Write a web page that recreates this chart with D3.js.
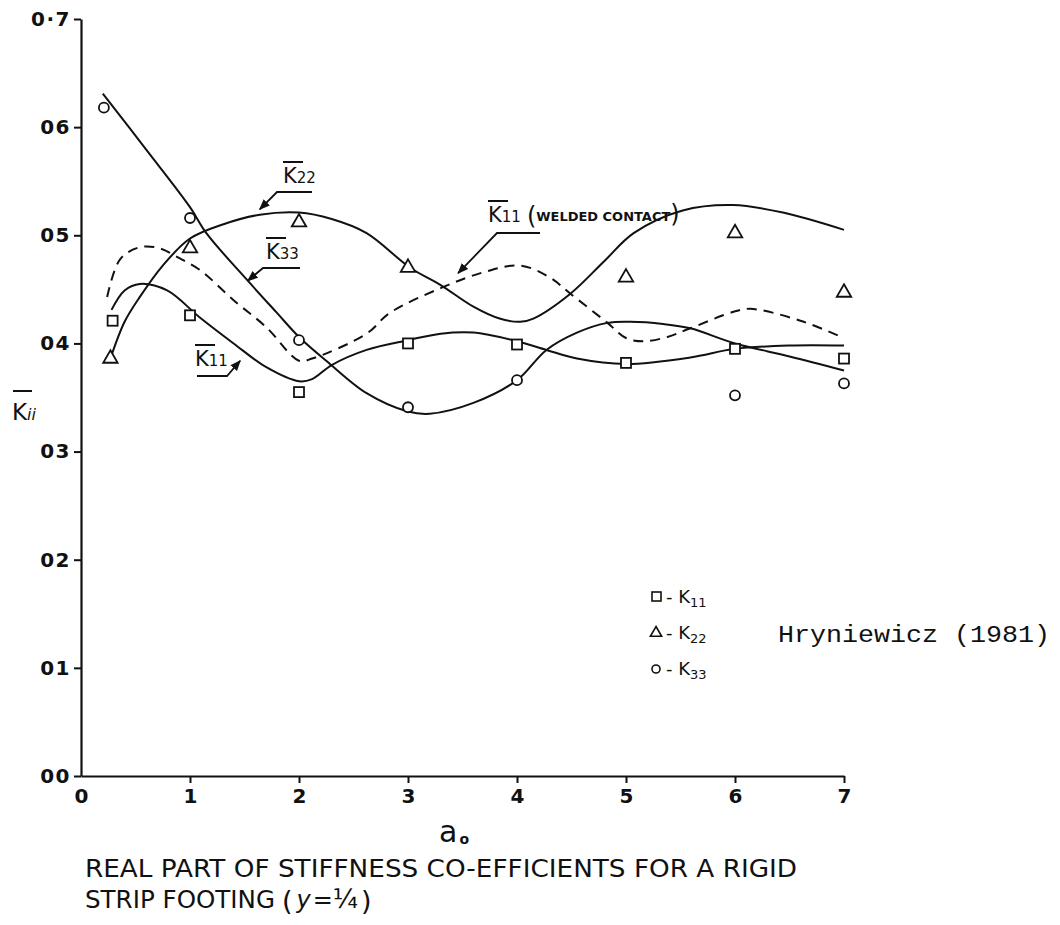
<!DOCTYPE html>
<html><head><meta charset="utf-8">
<script src="https://cdn.jsdelivr.net/npm/d3@7"></script>
<style>
html,body{margin:0;padding:0;background:#fff;}
svg{display:block;}
text{fill:#111;}
</style></head>
<body>
<svg id="c" width="1060" height="925"></svg>
<script>
// ---------- data ----------
const xTicks = [0,1,2,3,4,5,6,7];
const xTickLabels = ["0","1","2","3","4","5","6","7"];
const yTicks = [0,0.1,0.2,0.3,0.4,0.5,0.6,0.7];
const yTickLabels = ["00","01","02","03","04","05","06","0·7"];

// markers (Hryniewicz 1981)
const k11X = [0.29,1,2,3,4,5,6,7];
const k11Y = [0.421,0.426,0.355,0.400,0.399,0.382,0.395,0.386];
const k22X = [0.27,1,2,3,5,6,7];
const k22Y = [0.386,0.488,0.512,0.470,0.461,0.502,0.447];
const k33X = [0.21,1,2,3,4,6,7];
const k33Y = [0.618,0.516,0.403,0.341,0.366,0.352,0.363];

// curves (present study)
const c11X = [0.28,0.40,0.54,0.79,1.09,1.40,1.70,2.00,2.12,2.30,2.62,3.00,3.30,3.60,4.00,4.27,4.55,5.00,5.59,6.00,6.50,7.00];
const c11Y = [0.431,0.449,0.455,0.449,0.424,0.400,0.378,0.365,0.367,0.380,0.394,0.403,0.409,0.410,0.402,0.394,0.386,0.381,0.387,0.395,0.398,0.398];
const c22X = [0.27,0.40,0.54,0.75,1.00,1.30,1.64,2.00,2.30,2.62,3.02,3.30,3.60,3.84,4.03,4.15,4.49,4.80,5.07,5.52,5.98,6.44,7.00];
const c22Y = [0.386,0.420,0.443,0.472,0.497,0.510,0.519,0.521,0.515,0.502,0.470,0.454,0.434,0.423,0.420,0.423,0.446,0.476,0.502,0.523,0.528,0.521,0.505];
const c33X = [0.20,0.60,1.00,1.15,1.53,1.80,2.00,2.25,2.62,3.00,3.20,3.60,4.00,4.27,4.55,4.83,5.04,5.34,5.59,6.00,6.50,7.00];
const c33Y = [0.631,0.579,0.526,0.502,0.458,0.428,0.406,0.384,0.354,0.337,0.335,0.345,0.366,0.394,0.410,0.419,0.420,0.418,0.414,0.400,0.388,0.375];
const cwX = [0.24,0.36,0.54,0.72,0.88,1.09,1.40,1.70,2.00,2.12,2.62,2.83,3.32,3.70,4.03,4.30,4.49,4.83,5.00,5.16,5.38,5.59,5.98,6.14,6.60,7.00];
const cwY = [0.443,0.478,0.489,0.488,0.480,0.468,0.440,0.415,0.384,0.386,0.409,0.428,0.452,0.466,0.472,0.461,0.446,0.419,0.405,0.402,0.406,0.414,0.429,0.432,0.421,0.405];

// annotation arrow tips (data units)
const annK22 = {x:1.64, y:0.524};
const annK33 = {x:1.53, y:0.458};
const annK11 = {x:1.46, y:0.384};
const annW   = {x:3.46, y:0.465};

// ---------- drawing ----------
const svg = d3.select("#c");
svg.append("rect").attr("width",1060).attr("height",925).attr("fill","#fff");
const x = d3.scaleLinear().domain([0,7]).range([81,844]);
const y = d3.scaleLinear().domain([0,0.7]).range([776,19]);
const FONT = "'DejaVu Sans', sans-serif";

svg.append("defs").append("marker")
  .attr("id","ah").attr("viewBox","0 0 10 10").attr("refX",9).attr("refY",5)
  .attr("markerWidth",11).attr("markerHeight",11).attr("markerUnits","userSpaceOnUse")
  .attr("orient","auto")
  .append("path").attr("d","M0,1 L10,5 L0,9 Z").attr("fill","#111");

// axes
const gy = svg.append("g").attr("transform","translate(81,0)")
  .call(d3.axisLeft(y).tickValues(yTicks).tickFormat((d,i)=>yTickLabels[i]).tickSizeInner(7).tickSizeOuter(0).tickPadding(3));
const gx = svg.append("g").attr("transform","translate(0,776)")
  .call(d3.axisBottom(x).tickValues(xTicks).tickFormat((d,i)=>xTickLabels[i]).tickSizeInner(7).tickSizeOuter(0).tickPadding(6));
[gy,gx].forEach(g=>{
  g.select(".domain").attr("stroke","#111").attr("stroke-width",2.2);
  g.selectAll(".tick line").attr("stroke","#111").attr("stroke-width",2);
  g.selectAll(".tick text").attr("font-family",FONT).attr("font-size",20).attr("font-weight","bold").attr("fill","#111");
});
gx.selectAll(".tick").filter(d=>d===0).select("line").remove();
gy.selectAll(".tick text").attr("letter-spacing",1.5);

// lines
const line = d3.line().x(d=>x(d[0])).y(d=>y(d[1])).curve(d3.curveCatmullRom.alpha(0.5));
function pts(xs,ys){return xs.map((v,i)=>[v,ys[i]]);}
const lines = [
  {p:pts(c11X,c11Y),dash:null},
  {p:pts(c22X,c22Y),dash:null},
  {p:pts(c33X,c33Y),dash:null},
  {p:pts(cwX,cwY),dash:"10,7"}
];
svg.append("g").selectAll("path").data(lines).join("path")
  .attr("d",d=>line(d.p)).attr("fill","none").attr("stroke","#111")
  .attr("stroke-width",2).attr("stroke-dasharray",d=>d.dash);

// markers
const mk = svg.append("g").attr("stroke","#111").attr("stroke-width",1.8).attr("fill","#fff");
mk.selectAll(".sq").data(pts(k11X,k11Y)).join("rect")
  .attr("x",d=>x(d[0])-5).attr("y",d=>y(d[1])-5).attr("width",10).attr("height",10);
const tri = d3.symbol().type(d3.symbolTriangle).size(90);
mk.selectAll(".tr").data(pts(k22X,k22Y)).join("path")
  .attr("d",tri).attr("transform",d=>`translate(${x(d[0])},${y(d[1])})`);
mk.selectAll(".ci").data(pts(k33X,k33Y)).join("circle")
  .attr("cx",d=>x(d[0])).attr("cy",d=>y(d[1])).attr("r",5);

// axis labels
const yl = svg.append("text").attr("x",12).attr("y",420).attr("font-family",FONT).attr("font-size",23);
yl.append("tspan").text("K");
yl.append("tspan").attr("font-size",16).attr("font-style","italic").text("ii");
svg.append("line").attr("x1",13).attr("x2",32).attr("y1",391).attr("y2",391).attr("stroke","#111").attr("stroke-width",2);

const xl = svg.append("text").attr("x",439).attr("y",842).attr("font-family",FONT).attr("font-size",30);
xl.append("tspan").text("a");
xl.append("tspan").attr("font-size",14).attr("dy",2).attr("dx",2).attr("font-weight","bold").text("o");

// title
svg.append("text").attr("x",85).attr("y",877).attr("font-family",FONT).attr("font-size",24)
  .attr("textLength",712).attr("lengthAdjust","spacingAndGlyphs")
  .text("REAL PART OF STIFFNESS CO-EFFICIENTS FOR A RIGID");
const t2 = svg.append("text").attr("x",85).attr("y",908).attr("font-family",FONT).attr("font-size",24);
t2.append("tspan").attr("textLength",190).attr("lengthAdjust","spacingAndGlyphs").text("STRIP FOOTING");
t2.append("tspan").attr("x",282).attr("font-size",27).attr("dy",2).text("(");
t2.append("tspan").attr("dx",4).attr("dy",-2).attr("font-style","italic").text("y");
t2.append("tspan").attr("dx",2).text("=");
t2.append("tspan").attr("font-size",26).text("¼");
t2.append("tspan").attr("font-size",27).attr("dy",2).attr("dx",3).text(")");

// annotations
function ann(tip, sub, tx, ty, ul, extra){
  const g = svg.append("g");
  const t = g.append("text").attr("x",tx).attr("y",ty).attr("font-family",FONT).attr("font-size",21);
  t.append("tspan").text("K");
  t.append("tspan").attr("font-size",15).text(sub);
  if(extra){
    t.append("tspan").attr("font-size",24).attr("dx",6).attr("dy",2).text("(");
    t.append("tspan").attr("font-size",13).attr("font-weight","bold").attr("dy",-3)
      .attr("textLength",134).attr("lengthAdjust","spacingAndGlyphs").text("WELDED CONTACT");
    t.append("tspan").attr("font-size",24).attr("dy",1).text(")");
  }
  g.append("line").attr("x1",tx).attr("x2",tx+20).attr("y1",ty-21).attr("y2",ty-21).attr("stroke","#111").attr("stroke-width",2);
  g.append("path").attr("d",`M${ul[0]},${ul[2]} L${ul[1]},${ul[2]} L${x(tip.x)},${y(tip.y)}`)
    .attr("fill","none").attr("stroke","#111").attr("stroke-width",1.8).attr("marker-end","url(#ah)");
}
ann(annK22,"22",283,183,[312,277,192]);
ann(annK33,"33",266,259,[300,263,268]);
ann(annK11,"11",195,366,[197,227,376]);
ann(annW,"11",488,222,[540,497,233],true);

// legend
const lg = svg.append("g");
const legSubs = ["11","22","33"];
const legTypes = ["sq","tr","ci"];
legTypes.forEach((tp,i)=>{
  const cy = 597 + i*36;
  if(tp==="sq") lg.append("rect").attr("x",652).attr("y",cy-5).attr("width",9).attr("height",9).attr("fill","#fff").attr("stroke","#111").attr("stroke-width",1.6);
  if(tp==="tr") lg.append("path").attr("d",d3.symbol().type(d3.symbolTriangle).size(55)).attr("transform",`translate(656,${cy})`).attr("fill","#fff").attr("stroke","#111").attr("stroke-width",1.6);
  if(tp==="ci") lg.append("circle").attr("cx",656).attr("cy",cy).attr("r",4).attr("fill","#fff").attr("stroke","#111").attr("stroke-width",1.6);
  const t = lg.append("text").attr("x",666).attr("y",cy+6).attr("font-family",FONT).attr("font-size",18);
  t.append("tspan").text("- K");
  t.append("tspan").attr("font-size",13).attr("dy",4).text(legSubs[i]);
});
svg.append("text").attr("x",778).attr("y",642).attr("font-family","'Liberation Mono', monospace").attr("font-size",24)
  .attr("textLength",272).attr("lengthAdjust","spacingAndGlyphs").text("Hryniewicz (1981)");
</script>
</body></html>
